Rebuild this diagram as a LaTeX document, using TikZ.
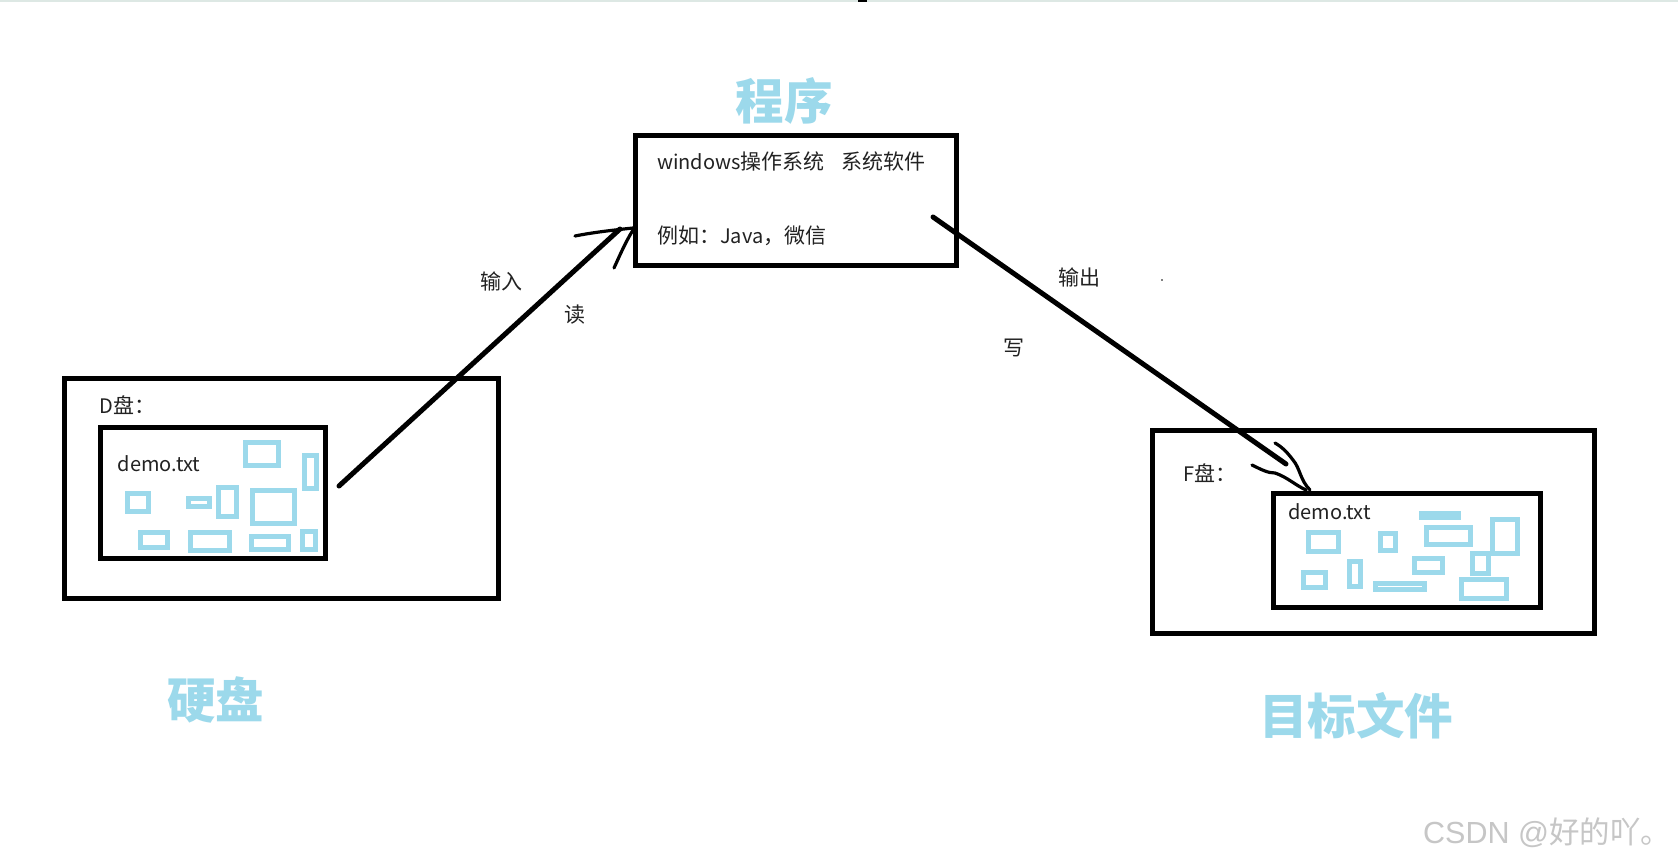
\documentclass[tikz,border=0pt]{standalone}
\usepackage{fontspec}
\setmainfont{Noto Sans CJK SC}
\newfontfamily\wmlatin{Liberation Sans}
\newcommand{\cj}[1]{{\fontsize{21}{24}\selectfont #1}}
\definecolor{skyb}{HTML}{9CD9EB}
\definecolor{ink}{HTML}{222222}
\definecolor{wm}{HTML}{C6C6C6}
\definecolor{strip}{HTML}{DDE8E4}
\tikzset{
  boxn/.style={draw=black,line width=5pt,fill=none,inner sep=0pt,outer sep=0pt},
  lab/.style={text=ink,inner sep=0pt,font=\fontsize{20}{24}\selectfont},
  labw/.style={lab,anchor=west},
  title/.style={text=skyb,inner sep=0pt,font=\fontsize{48.5}{58}\selectfont\bfseries},
  stroke/.style={line width=5pt,line cap=round,line join=round,black},
  thin stroke/.style={line width=3.2pt,line cap=round,line join=round,black},
  blk/.style={draw=skyb,line width=5pt,fill=none},
}
\begin{document}
\begin{tikzpicture}[x=1pt,y=-1pt]
\useasboundingbox (0,0) rectangle (1678,864);
\fill[white] (0,0) rectangle (1678,864);
\fill[strip] (0,0) rectangle (1678,2);
\fill[black] (858,0) rectangle (867,2.5);
\fill[black] (1162,280) circle (0.8);

% boxes
\node[boxn,minimum width=321pt,minimum height=130pt] (prog) at (796,200.5) {};
\node[boxn,minimum width=434pt,minimum height=220pt] (dout) at (281.5,488) {};
\node[boxn,minimum width=225pt,minimum height=131pt] (din) at (213,492.5) {};
\node[boxn,minimum width=442pt,minimum height=203pt] (fout) at (1373.5,532) {};
\node[boxn,minimum width=267pt,minimum height=114pt] (fin) at (1407,550) {};

% small blocks, disk D
\begin{scope}[shift={(40,360)},x=0.33333pt,y=-0.33333pt]
\foreach \a/\b/\c/\d in {609/240/723/324,786/279/837/393,528/375/597/477,630/384/771/498,255/393/333/462,438/408/516/447,294/510/390/570,444/510/576/579,627/522/753/576,780/507/834/576}
  \draw[blk] ({\a+7.5},{\b+7.5}) rectangle ({\c-7.5},{\d-7.5});
\end{scope}

% small blocks, disk F
\begin{scope}[shift={(1140,410)},x=0.33333pt,y=-0.33333pt]
\fill[skyb] (837,303) rectangle (963,330);
\foreach \a/\b/\c/\d in {852/345/999/411,1050/321/1140/438,990/423/1053/498,816/438/915/495,957/501/1107/573,498/360/603/432,714/363/774/429,621/447/669/537,483/480/564/540}
  \draw[blk] ({\a+7.5},{\b+7.5}) rectangle ({\c-7.5},{\d-7.5});
\draw[draw=skyb,line width=5pt] (706.5,520.5) rectangle (853.5,538.5);
\end{scope}

% texts
\node[labw] (tw) at (657,161.5) {windows\cj{操作系统\ \ \ \hspace{3pt}系统软件}};
\node[labw] (te) at (657,236) {\cj{例如：}Java\cj{，微信}};
\node[labw] (td) at (99.5,405) {D\cj{盘：}};
\node[labw] (tdd) at (117.5,464) {demo.txt};
\node[labw] (tf) at (1183,473) {F\cj{盘：}};
\node[labw] (tfd) at (1288,512) {demo.txt};
\node[lab] (tin) at (501,281) {\cj{输入}};
\node[lab] (tdu) at (574.5,315) {\cj{读}};
\node[lab] (tout) at (1079,277) {\cj{输出}};
\node[lab] (txie) at (1014,348) {\cj{写}};
\node[title] (t1) at (784,101) {程序};
\node[title] (t2) at (215.5,699.5) {硬盘};
\node[title] (t3) at (1356,715.5) {目标文件};
\node[inner sep=0pt,anchor=west,text=wm,font=\fontsize{30.5}{36}\selectfont] (wmk) at (1423,833) {{\wmlatin CSDN @}\addfontfeature{Weight=Light}好的吖。};

% connectors
\coordinate (a0) at (339,486);
\coordinate (a1) at (620,229);
\coordinate (b0) at (933,217);
\coordinate (b1) at (1286,464);
\draw[stroke] (a0) -- (a1);
\draw[stroke] (b0) -- (b1);
\draw[thin stroke] (575,236) .. controls (595,232) and (615,230) .. (633,228);
\draw[thin stroke] (614,268) .. controls (620,255) and (625,243) .. (633,230);
\draw[thin stroke] (1275,443) .. controls (1282,447) and (1287,452) .. (1293,460) .. controls (1300,468) and (1300,480) .. (1310,490);
\draw[thin stroke] (1252,465) .. controls (1262,470) and (1268,473) .. (1275,473) .. controls (1287,477) and (1295,485) .. (1306,490);
\end{tikzpicture}
\end{document}
